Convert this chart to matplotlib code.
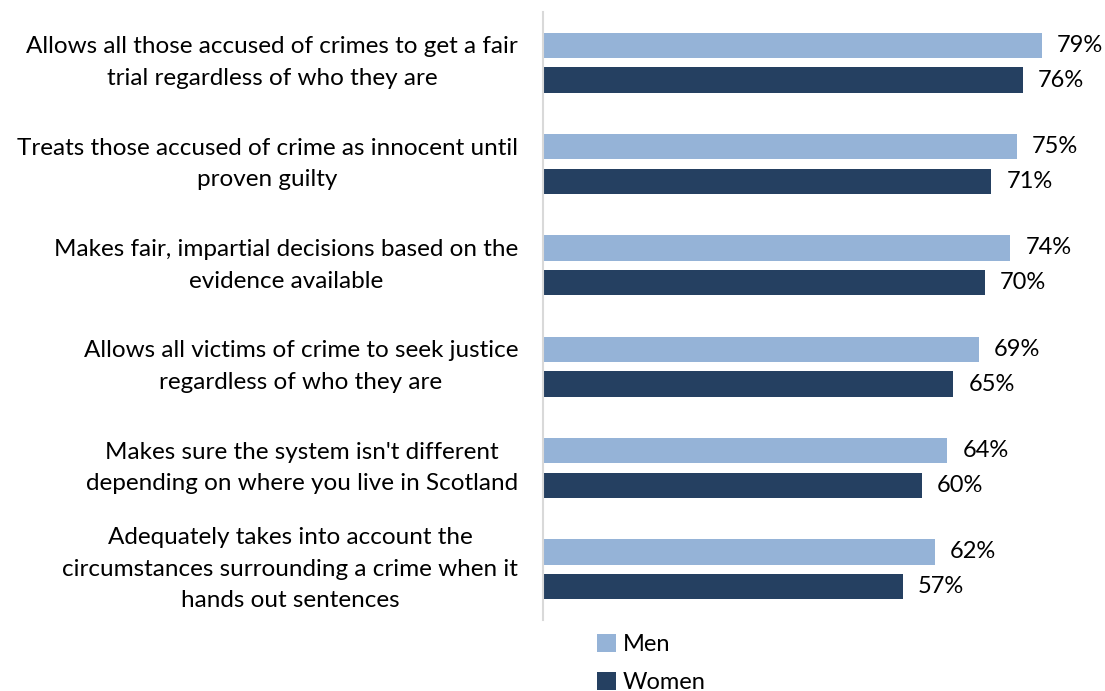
import matplotlib
matplotlib.use("Agg")
import matplotlib.pyplot as plt
import numpy as np
from matplotlib.transforms import blended_transform_factory

categories = [
    "Allows all those accused of crimes to get a fair\ntrial regardless of who they are",
    "Treats those accused of crime as innocent until\nproven guilty",
    "Makes fair, impartial decisions based on the\nevidence available",
    "Allows all victims of crime to seek justice\nregardless of who they are",
    "Makes sure the system isn't different\ndepending on where you live in Scotland",
    "Adequately takes into account the\ncircumstances surrounding a crime when it\nhands out sentences",
]
men = [79, 75, 74, 69, 64, 62]
women = [76, 71, 70, 65, 60, 57]
series_names = ["Men", "Women"]
colors = ["#95B3D7", "#254061"]

plt.rcParams['font.family'] = ['Lato', 'DejaVu Sans']

fig = plt.figure(figsize=(11.05, 6.91), dpi=100)
ax = fig.add_axes([543/1105, 1 - 620/691, 1 - 543/1105, 608/691])

y = np.arange(len(categories))
off = 0.172
h = 0.25
ax.barh(y - off, men, height=h, color=colors[0], label=series_names[0])
ax.barh(y + off, women, height=h, color=colors[1], label=series_names[1])

for yi, v in zip(y, men):
    ax.text(v + 2.4, yi - off, f"{v}%", va="center", ha="left", fontsize=17, color="#000000")
for yi, v in zip(y, women):
    ax.text(v + 2.4, yi + off, f"{v}%", va="center", ha="left", fontsize=17, color="#000000")

ax.set_ylim(len(categories) - 0.5, -0.5)
ax.set_xlim(0, 89)
ax.set_yticks([])
ax.set_xticks([])
for s in ["top", "right", "bottom"]:
    ax.spines[s].set_visible(False)
ax.spines["left"].set_color("#D9D9D9")
ax.spines["left"].set_linewidth(1.5)

trans = blended_transform_factory(fig.transFigure, ax.transData)
for yi, c in zip(y, categories):
    ax.text(518/1105, yi, c, transform=trans, ha="right", va="center",
            fontsize=17.5, linespacing=1.62, multialignment="center")

leg = fig.legend(loc="upper left", bbox_to_anchor=(585/1105, 1 - 622/691), frameon=False,
                 fontsize=17, handlelength=0.8, handleheight=0.8, handletextpad=0.3,
                 labelspacing=0.7, borderpad=0)

fig.savefig("out.png", dpi=100)
